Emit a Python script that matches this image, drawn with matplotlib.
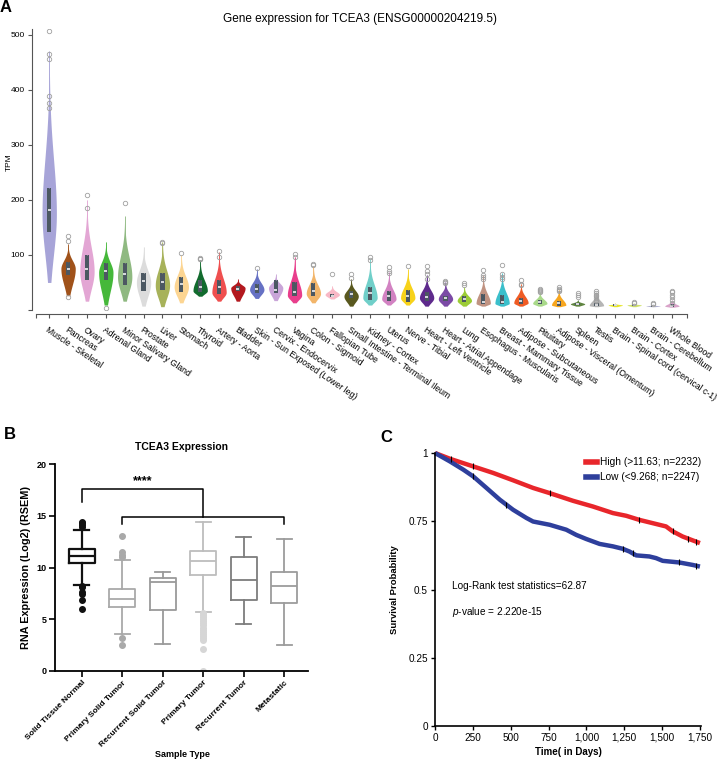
import numpy as np
import matplotlib
matplotlib.use("Agg")
import matplotlib.pyplot as plt
from matplotlib.patches import Rectangle
from matplotlib.lines import Line2D

plt.rcParams['font.family'] = ['Liberation Sans', 'DejaVu Sans']
plt.rcParams['mathtext.fontset'] = 'custom'
plt.rcParams['mathtext.rm'] = 'Liberation Sans'
plt.rcParams['mathtext.it'] = 'Liberation Sans:italic'

#%% A - GTEx violin data (TPM)
tissues = ["Muscle - Skeletal", "Pancreas", "Ovary", "Adrenal Gland", "Minor Salivary Gland",
           "Prostate", "Liver", "Stomach", "Thyroid", "Artery - Aorta", "Bladder",
           "Skin - Sun Exposed (Lower leg)", "Cervix - Endocervix", "Vagina", "Colon - Sigmoid",
           "Fallopian Tube", "Small Intestine - Terminal Ileum", "Kidney - Cortex", "Uterus",
           "Nerve - Tibial", "Heart - Left Ventricle", "Heart - Atrial Appendage", "Lung",
           "Esophagus - Muscularis", "Breast - Mammary Tissue", "Adipose - Subcutaneous",
           "Pituitary", "Adipose - Visceral (Omentum)", "Spleen", "Testis",
           "Brain - Spinal cord (cervical c-1)", "Brain - Cortex", "Brain - Cerebellum", "Whole Blood"]
v_low  = [50, 26, 16, 9, 16, 7, 6, 13, 25, 16, 16, 21, 17, 13, 13, 20, 7, 9, 9, 9, 7, 7, 7, 7, 7, 7, 7, 6, 7, 6, 6, 6, 6, 5]
v_q1   = [142, 64, 55, 55, 45, 35, 36, 32, 32, 29, 34, 30, 30, 26, 26, 23, 21, 18, 17, 14, 17, 17, 15, 11, 11, 10, 11, 7, 9, 7, 7, 7, 6, 6]
v_med  = [182, 74, 74, 70, 66, 53, 50, 48, 42, 41, 39, 39, 36, 33, 34, 26, 29, 30, 25, 25, 24, 21, 20, 15, 15, 16, 14, 12, 11, 9, 9, 9, 7, 8]
v_q3   = [222, 88, 100, 85, 85, 68, 68, 59, 54, 54, 44, 48, 55, 51, 49, 29, 35, 41, 35, 37, 33, 26, 26, 29, 27, 21, 18, 17, 13, 12, 11, 11, 9, 10]
v_high = [470, 120, 200, 124, 170, 115, 124, 100, 91, 105, 56, 74, 65, 97, 79, 44, 56, 92, 69, 74, 63, 51, 42, 63, 67, 48, 33, 37, 18, 33, 12, 12, 10, 18]
v_peak = [175, 75, 70, 68, 60, 50, 45, 42, 35, 32, 40, 37, 40, 27, 30, 28, 25, 22, 20, 22, 22, 20, 17, 12, 12, 13, 12, 9, 11, 8, 9, 9, 7, 7]
v_out = [[507, 465, 455, 388, 376, 367], [134, 125, 24], [208, 185], [4], [195], [], [124, 121], [103],
         [92, 93, 95], [107, 97], [], [76], [], [102, 96], [83, 82], [66], [66, 58], [96, 90],
         [78, 71, 68], [80], [80, 71, 66, 57], [53, 51, 49], [49, 46], [73, 63, 60, 57],
         [82, 65, 60, 56], [54, 48, 45], [39, 36, 35, 33], [42, 39, 37, 35], [31, 28, 24],
         [35, 31, 28, 25, 22, 19, 16], [], [15, 13], [12, 10], [35, 33, 28, 24, 18, 12]]
v_colors = ["#a7a4d8", "#a0521a", "#e3a6d4", "#45b83a", "#8fb981", "#dcdcdc", "#a7b25a", "#fcd592",
            "#126b2e", "#ef4f4f", "#b3191f", "#6671c4", "#c9a5d8", "#e83e8c", "#f2b56a", "#f8b8c6",
            "#59581f", "#70cfc9", "#d282c2", "#f7d21a", "#5e2a8c", "#7b4aa5", "#9ccc36", "#c09382",
            "#3bbfcb", "#ef5b24", "#a9d98a", "#f7a61e", "#5f8440", "#b5b5b5", "#e6e62a", "#cfe06a",
            "#b0b0d0", "#d9a3c9"]

#%% B - TCGA box plot (log2 RSEM)
groups = ["Solid Tissue Normal", "Primary Solid Tumor", "Recurrent Solid Tumor",
          "Primary Tumor", "Recurrent Tumor", "Metastatic"]
b_whislo = [8.35, 3.55, 2.6, 5.7, 4.5, 2.48]
b_q1 = [10.48, 6.19, 5.9, 9.3, 6.9, 6.6]
b_med = [11.13, 7.0, 8.6, 10.65, 8.77, 8.23]
b_q3 = [11.74, 7.9, 8.94, 11.55, 10.97, 9.55]
b_whishi = [13.58, 10.77, 9.6, 14.4, 12.9, 12.74]
b_fliers = [[14.4, 14.3, 14.1, 13.9, 8.2, 8.1, 7.6, 7.4, 6.9, 6.0],
            [13.0, 11.45, 11.2, 11.0, 3.2, 2.5],
            [],
            [5.6, 5.4, 5.2, 5.0, 4.8, 4.6, 4.4, 4.2, 4.0, 3.8, 3.6, 3.4, 3.2, 3.0, 2.1, 0.0],
            [],
            []]
b_colors = ["#111111", "#a9a9a9", "#9a9a9a", "#bdbdbd", "#7d7d7d", "#9c9c9c"]
b_flier_colors = ["#111111", "#a9a9a9", "#9a9a9a", "#d6d6d6", "#7d7d7d", "#9c9c9c"]

#%% C - Kaplan-Meier
high_t = [0, 103, 252, 384, 516, 648, 758, 911, 1043, 1175, 1263, 1350, 1482, 1526, 1570, 1636, 1702, 1750]
high_s = [1.0, 0.978, 0.951, 0.927, 0.900, 0.872, 0.853, 0.825, 0.804, 0.780, 0.770, 0.755, 0.737, 0.731, 0.713, 0.694, 0.680, 0.670]
low_t = [0, 99, 187, 253, 340, 428, 516, 604, 648, 758, 867, 933, 999, 1087, 1175, 1241, 1285, 1329, 1416, 1460, 1504, 1614, 1702, 1750]
low_s = [1.0, 0.969, 0.939, 0.914, 0.872, 0.829, 0.792, 0.762, 0.749, 0.737, 0.719, 0.700, 0.685, 0.667, 0.658, 0.649, 0.639, 0.625, 0.621, 0.615, 0.605, 0.599, 0.590, 0.584]
high_cens = [103, 253, 758, 1350, 1570, 1670, 1725]
low_cens = [253, 472, 1240, 1306, 1614, 1725]

W, H = 720, 761
fig = plt.figure(figsize=(W / 100, H / 100), dpi=100)

def frac(x0, y0, x1, y1):
    # pixel box (top-left origin) -> figure fraction
    return [x0 / W, 1 - y1 / H, (x1 - x0) / W, (y1 - y0) / H]

#%% Panel A
axA = fig.add_axes(frac(36, 29, 687, 310))
n = len(tissues)
hw = 0.38
for i in range(n):
    lo, hi, pk = v_low[i], v_high[i], v_peak[i]
    y = np.linspace(lo, hi, 150)
    s_lo = max(pk - lo, 0.5) / 1.7
    s_hi = max(hi - pk, 0.5) / 3.0
    f = np.where(y < pk, np.exp(-0.5 * ((y - pk) / s_lo) ** 2), np.exp(-0.5 * ((y - pk) / s_hi) ** 2))
    axA.fill_betweenx(y, i - hw * f, i + hw * f, color=v_colors[i], lw=0)
    axA.vlines(i, v_q3[i], hi, color=v_colors[i], lw=0.6)
    axA.add_patch(Rectangle((i - 0.11, v_q1[i]), 0.22, v_q3[i] - v_q1[i], color="#4c5862", lw=0))
    axA.hlines(v_med[i], i - 0.08, i + 0.08, color="white", lw=1.1)
    if v_out[i]:
        axA.plot([i] * len(v_out[i]), v_out[i], 'o', mfc='none', mec='#a0a0a0', ms=3.2, mew=0.6)

axA.set_xlim(-0.7, n - 0.2)
axA.set_ylim(0, 510)
for s in ["top", "right"]:
    axA.spines[s].set_visible(False)
axA.spines["left"].set_position(("outward", 3))
axA.spines["bottom"].set_position(("outward", 3))
for s in ["left", "bottom"]:
    axA.spines[s].set_color("#555555")
    axA.spines[s].set_linewidth(0.8)
axA.set_yticks([0, 100, 200, 300, 400, 500])
axA.set_yticklabels(["", "100", "200", "300", "400", "500"], fontsize=6)
axA.set_xticks(range(n))
axA.set_xticklabels(tissues, fontsize=6.2, rotation=-34, ha="left", va="top", rotation_mode="anchor")
axA.set_xticks([-0.7, n - 0.2], minor=True)
axA.tick_params(axis="both", which="both", length=3, width=0.8, color="#555555", pad=2)
axA.tick_params(axis="x", which="major", pad=5)
axA.set_ylabel("TPM", fontsize=6)
axA.yaxis.set_label_coords(-0.036, 0.527)
fig.text(360 / W, 1 - 19 / H, "Gene expression for TCEA3 (ENSG00000204219.5)", ha="center", va="center", fontsize=8.5)

#%% Panel B
axB = fig.add_axes(frac(55, 464, 308, 671))
stats = []
for i in range(len(groups)):
    stats.append(dict(med=b_med[i], q1=b_q1[i], q3=b_q3[i], whislo=b_whislo[i], whishi=b_whishi[i], fliers=b_fliers[i]))
for i, st in enumerate(stats):
    c = b_colors[i]
    lw = 1.6 if i == 0 else 1.3
    axB.bxp([st], positions=[i], widths=0.64, showfliers=True,
            boxprops=dict(color=c, lw=lw), medianprops=dict(color=c, lw=lw),
            whiskerprops=dict(color=c, lw=lw), capprops=dict(color=c, lw=lw),
            flierprops=dict(marker='o', mfc=b_flier_colors[i], mec=b_flier_colors[i], ms=4),
            capwidths=0.37)
axB.set_xlim(-0.66, 5.59)
axB.set_ylim(0, 20)
for s in ["top", "right"]:
    axB.spines[s].set_visible(False)
for s in ["left", "bottom"]:
    axB.spines[s].set_linewidth(1.3)
axB.set_yticks([0, 5, 10, 15, 20])
axB.set_yticklabels(["0", "5", "10", "15", "20"], fontsize=6.5, fontweight="bold")
axB.set_xticks(range(len(groups)))
axB.set_xticklabels(groups, fontsize=6, fontweight="bold", rotation=45, ha="right", va="top", rotation_mode="anchor")
axB.tick_params(axis="both", length=4, width=1.2, pad=2)
axB.set_ylabel("RNA Expression (Log2) (RSEM)", fontsize=7.8, fontweight="bold")
axB.yaxis.set_label_coords(-0.094, 0.5)
axB.set_xlabel("Sample Type", fontsize=6.5, fontweight="bold")
axB.xaxis.set_label_coords(0.502, -0.38)
axB.set_title("TCEA3 Expression", fontsize=7.5, fontweight="bold", pad=10)
# significance brackets
axB.plot([0, 0, 3, 3], [16.35, 17.55, 17.55, 14.84], color="black", lw=1.1)
axB.plot([1, 1, 5, 5], [14.2, 14.84, 14.84, 14.2], color="black", lw=1.1)
axB.text(1.5, 17.75, "****", ha="center", va="bottom", fontsize=9, fontweight="bold")

#%% Panel C
axC = fig.add_axes(frac(435, 453, 701, 726))
axC.plot(high_t, high_s, color="#e8262b", lw=3.2, clip_on=False, solid_capstyle="butt")
axC.plot(low_t, low_s, color="#2e3f9c", lw=3.2, clip_on=False, solid_capstyle="butt")
axC.plot(high_cens, np.interp(high_cens, high_t, high_s), '|', color="black", ms=4.5, mew=0.8)
axC.plot(low_cens, np.interp(low_cens, low_t, low_s), '|', color="black", ms=4.5, mew=0.8)
axC.set_xlim(0, 1757)
axC.set_ylim(0, 1.0)
for s in ["top", "right"]:
    axC.spines[s].set_visible(False)
for s in ["left", "bottom"]:
    axC.spines[s].set_linewidth(1.2)
axC.set_xticks([0, 250, 500, 750, 1000, 1250, 1500, 1750])
axC.set_xticklabels(["0", "250", "500", "750", "1,000", "1,250", "1,500", "1,750"], fontsize=7.2)
axC.set_yticks([0, 0.25, 0.5, 0.75, 1.0])
axC.set_yticklabels(["0", "0.25", "0.5", "0.75", "1"], fontsize=7.2)
axC.tick_params(axis="both", length=3, width=1, pad=2)
axC.set_ylabel("Survival Probability", fontsize=6.8, fontweight="bold", labelpad=7)
axC.set_xlabel("Time( in Days)", fontsize=7, fontweight="bold", labelpad=3)
handles = [Line2D([], [], color="#e8262b", lw=4), Line2D([], [], color="#2e3f9c", lw=4)]
axC.legend(handles, ["High (>11.63; n=2232)", "Low (<9.268; n=2247)"], loc="upper right",
           bbox_to_anchor=(1.0, 0.985), frameon=False, fontsize=7.3, handlelength=1.1,
           handletextpad=0.3, borderpad=0, labelspacing=0.5, borderaxespad=0)
axC.text(110, 0.511, "Log-Rank test statistics=62.87", fontsize=7.2, va="center")
axC.text(110, 0.416, "$p$-value = 2.220e-15", fontsize=7.2, va="center")

#%% panel letters
fig.text(6 / W, 1 - 8 / H, "A", fontsize=12, fontweight="bold", ha="center", va="center")
fig.text(10 / W, 1 - 434 / H, "B", fontsize=12, fontweight="bold", ha="center", va="center")
fig.text(386 / W, 1 - 437 / H, "C", fontsize=12, fontweight="bold", ha="center", va="center")

fig.savefig("out.png", dpi=100)
